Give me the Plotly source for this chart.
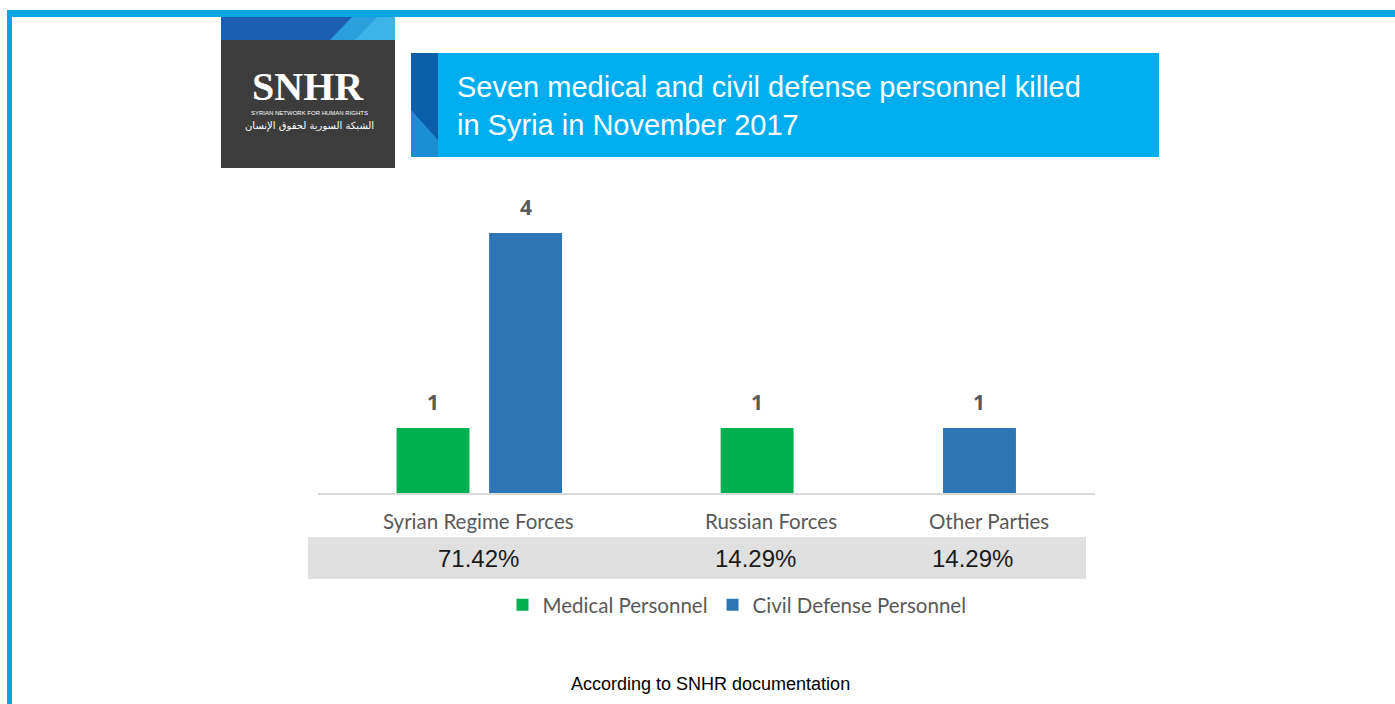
import plotly.graph_objects as go

# ---------------- data ----------------
categories = ["Syrian Regime Forces", "Russian Forces", "Other Parties"]
medical = [1, 1, None]
civil_defense = [4, None, 1]
percent_labels = ["71.42%", "14.29%", "14.29%"]
series_names = ["Medical Personnel", "Civil Defense Personnel"]
title_text = "Seven medical and civil defense personnel killed<br>in Syria in November 2017"
source_text = "According to SNHR documentation"
logo_text = "SNHR"
logo_sub_en = "SYRIAN NETWORK FOR HUMAN RIGHTS"
logo_sub_ar = "الشبكة السورية لحقوق الإنسان"

# ---------------- style ----------------
W, H = 1395, 704
GREEN = "#00B050"
BLUE = "#2E75B6"
LABEL_GREY = "#595959"
BAR_W = 0.286
med_off = [-0.370, -0.099, 0.0]
civ_off = [-0.007, 0.0, -0.227]
label_shift = [-0.047, 0.098, -0.047]
pct_shift = [-0.05, 0.036, -0.11]


def px(x):
    return x / W


def py(y):
    return 1 - y / H


fig = go.Figure()
fig.add_trace(go.Bar(x=categories, y=medical, name=series_names[0],
                     marker=dict(color=GREEN, line=dict(width=0)),
                     width=BAR_W, offset=med_off, hoverinfo="skip"))
fig.add_trace(go.Bar(x=categories, y=civil_defense, name=series_names[1],
                     marker=dict(color=BLUE, line=dict(width=0)),
                     width=BAR_W, offset=civ_off, hoverinfo="skip"))

annotations = []
# value labels above bars
for vals, offs in ((medical, med_off), (civil_defense, civ_off)):
    for i, v in enumerate(vals):
        if v is None:
            continue
        annotations.append(dict(x=i + offs[i] + BAR_W / 2, y=v, xref="x", yref="y",
                                text=f"<b>{v}</b>", showarrow=False, yanchor="middle",
                                yshift=26, font=dict(family="Open Sans", size=21, color=LABEL_GREY)))
# category labels and percentages
for i, cat in enumerate(categories):
    annotations.append(dict(x=i + label_shift[i], y=0, xref="x", yref="y", text=cat,
                            showarrow=False, yanchor="middle", yshift=-28,
                            font=dict(family="Lato", size=20.5, color=LABEL_GREY)))
    annotations.append(dict(x=i + pct_shift[i], y=0, xref="x", yref="y", text=percent_labels[i],
                            showarrow=False, yanchor="middle", yshift=-65,
                            font=dict(family="Liberation Sans", size=24, color="#1a1a1a")))

# title
annotations.append(dict(x=px(455), y=py(106), xref="paper", yref="paper", text=title_text,
                        showarrow=False, xanchor="left", yanchor="middle", align="left",
                        font=dict(family="Liberation Sans", size=29, color="white")))
# logo texts
annotations.append(dict(x=px(308), y=py(87), xref="paper", yref="paper", text=f"<b>{logo_text}</b>",
                        showarrow=False, xanchor="center", yanchor="middle",
                        font=dict(family="Liberation Serif", size=40, color="white")))
annotations.append(dict(x=px(309), y=py(113), xref="paper", yref="paper", text=logo_sub_en,
                        showarrow=False, xanchor="center", yanchor="middle",
                        font=dict(family="Liberation Sans", size=6, color="white")))
annotations.append(dict(x=px(309), y=py(126), xref="paper", yref="paper", text=logo_sub_ar,
                        showarrow=False, xanchor="center", yanchor="middle",
                        font=dict(family="DejaVu Sans", size=10, color="white")))
# source
annotations.append(dict(x=px(710), y=py(684), xref="paper", yref="paper", text=source_text,
                        showarrow=False, xanchor="center", yanchor="middle",
                        font=dict(family="Liberation Sans", size=18, color="black")))

shapes = [
    # border
    dict(type="rect", xref="paper", yref="paper", x0=px(7), x1=1, y0=py(17), y1=py(10),
         fillcolor="#0AA5E0", line=dict(width=0), layer="below"),
    dict(type="rect", xref="paper", yref="paper", x0=px(7), x1=px(12), y0=0, y1=py(10),
         fillcolor="#0AA5E0", line=dict(width=0), layer="below"),
    # percentage band
    dict(type="rect", xref="paper", yref="paper", x0=px(308), x1=px(1086), y0=py(579), y1=py(537),
         fillcolor="#E0E0E0", line=dict(width=0), layer="below"),
    # title box
    dict(type="rect", xref="paper", yref="paper", x0=px(411), x1=px(1159), y0=py(157), y1=py(53),
         fillcolor="#00AEEF", line=dict(width=0), layer="below"),
    dict(type="rect", xref="paper", yref="paper", x0=px(411), x1=px(438), y0=py(157), y1=py(53),
         fillcolor="#0B5FA8", line=dict(width=0), layer="below"),
    dict(type="path", xref="paper", yref="paper",
         path=f"M{px(411)},{py(110)} L{px(438)},{py(140)} L{px(438)},{py(157)} L{px(411)},{py(157)} Z",
         fillcolor="#1C8FD4", line=dict(width=0), layer="below"),
    # logo
    dict(type="rect", xref="paper", yref="paper", x0=px(221), x1=px(395), y0=py(168), y1=py(17),
         fillcolor="#3C3C3C", line=dict(width=0), layer="below"),
    dict(type="rect", xref="paper", yref="paper", x0=px(221), x1=px(395), y0=py(40), y1=py(17),
         fillcolor="#1B5FB0", line=dict(width=0), layer="below"),
    dict(type="path", xref="paper", yref="paper",
         path=f"M{px(330)},{py(40)} L{px(352)},{py(17)} L{px(395)},{py(17)} L{px(395)},{py(40)} Z",
         fillcolor="#2A9FDC", line=dict(width=0), layer="below"),
    dict(type="path", xref="paper", yref="paper",
         path=f"M{px(355)},{py(40)} L{px(377)},{py(17)} L{px(395)},{py(17)} L{px(395)},{py(40)} Z",
         fillcolor="#3DB3E8", line=dict(width=0), layer="below"),
]

fig.update_layout(
    width=W, height=H,
    margin=dict(l=0, r=0, t=0, b=0),
    paper_bgcolor="white", plot_bgcolor="white",
    barmode="overlay",
    showlegend=True,
    legend=dict(orientation="h", x=px(737), xanchor="center", y=py(605), yanchor="middle",
                font=dict(family="Lato", size=20.5, color=LABEL_GREY), bgcolor="rgba(0,0,0,0)"),
    xaxis=dict(domain=[px(318), px(1095)], range=[-0.678, 2.369], showticklabels=False,
               showgrid=False, zeroline=False, showline=True, linecolor="#D9D9D9", linewidth=1.5,
               ticks="", fixedrange=True),
    yaxis=dict(domain=[py(493), py(194)], range=[0, 4.6], visible=False, fixedrange=True),
    annotations=annotations,
    shapes=shapes,
)

fig.write_html("out.html", config={"displayModeBar": False},
               post_script="document.body.style.margin='0';document.body.style.overflow='hidden';")
